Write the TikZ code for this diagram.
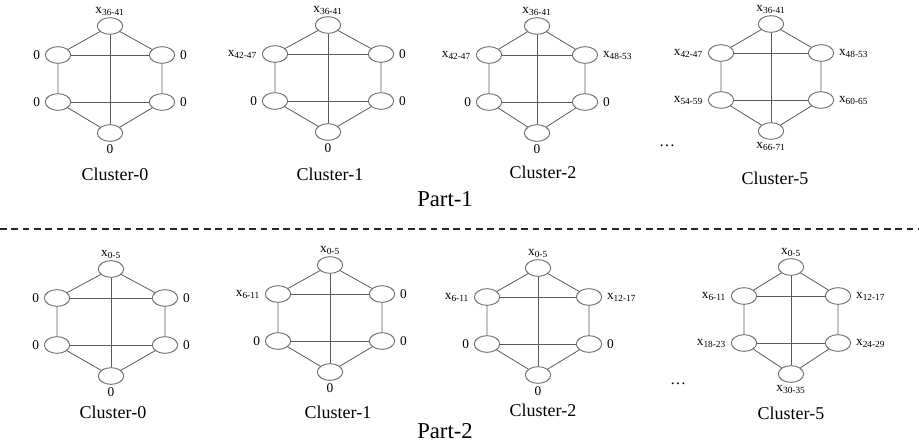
\documentclass[tikz,border=0pt]{standalone}
\usepackage{fontspec}
\setmainfont{Liberation Serif}
\usetikzlibrary{shapes.geometric}
\definecolor{cEdge}{HTML}{5A5A5A}
\definecolor{cVtx}{HTML}{6E6E6E}
\newcommand{\xl}[1]{x\textsubscript{#1}}

\begin{document}
\begin{tikzpicture}[
    x=0.75pt, y=-0.75pt,
    vtx/.style={ellipse, draw=cVtx, line width=0.7pt, minimum width=19pt, minimum height=12.5pt, inner sep=0pt},
    edge/.style={draw=cEdge, line width=0.6pt},
    lbl/.style={font=\fontsize{10}{11}\selectfont, inner sep=1pt},
    ctitle/.style={font=\fontsize{13.5}{15}\selectfont},
    ptitle/.style={font=\fontsize{17}{19}\selectfont},
    sep/.style={draw=black!85, line width=1pt, dash pattern=on 5pt off 3.5pt}
]
\useasboundingbox (0,0) rectangle (919,444);

% one hexagon cluster per entry: name/center x/top y/half width/title x/title y/title/labels
\foreach \n/\cx/\t/\w/\lx/\ly/\name/\la/\lb/\lc/\ld/\le/\lf in {
    c0a/110/26/52/115/174/Cluster-0/\xl{36-41}/0/0/0/0/0,
    c1a/328/25/53/330/174/Cluster-1/\xl{36-41}/\xl{42-47}/0/0/0/0,
    c2a/537/26/48/543/172/Cluster-2/\xl{36-41}/\xl{42-47}/\xl{48-53}/0/0/0,
    c5a/771/24/50/775/178/Cluster-5/\xl{36-41}/\xl{42-47}/\xl{48-53}/\xl{54-59}/\xl{60-65}/\xl{66-71},
    c0b/111/269/54/113/412/Cluster-0/\xl{0-5}/0/0/0/0/0,
    c1b/330/265/52/338/412/Cluster-1/\xl{0-5}/\xl{6-11}/0/0/0/0,
    c2b/538/268/51/543/410/Cluster-2/\xl{0-5}/\xl{6-11}/\xl{12-17}/0/0/0,
    c5b/791/267/47/791/413/Cluster-5/\xl{0-5}/\xl{6-11}/\xl{12-17}/\xl{18-23}/\xl{24-29}/\xl{30-35}}
{
    \node[vtx, label={[lbl, label distance=0pt]above:\la}] (\n-t) at (\cx,\t) {};
    \node[vtx, label={[lbl, label distance=2.5pt]left:\lb}] (\n-ul) at (\cx-\w,\t+29) {};
    \node[vtx, label={[lbl, label distance=2.5pt]right:\lc}] (\n-ur) at (\cx+\w,\t+29) {};
    \node[vtx, label={[lbl, label distance=2.5pt]left:\ld}] (\n-dl) at (\cx-\w,\t+76) {};
    \node[vtx, label={[lbl, label distance=2.5pt]right:\le}] (\n-dr) at (\cx+\w,\t+76) {};
    \node[vtx, label={[lbl, label distance=1pt]below:\lf}] (\n-b) at (\cx,\t+107) {};
    \node[ctitle] (\n-name) at (\lx,\ly) {\name};

    \draw[edge] (\n-t) -- (\n-ul) -- (\n-dl) -- (\n-b) -- (\n-dr) -- (\n-ur) -- (\n-t);
    \draw[edge] (\n-ul) -- (\n-ur);
    \draw[edge] (\n-dl) -- (\n-dr);
    \draw[edge] (\n-t) -- (\n-b);
}

\node[font=\fontsize{12}{12}\selectfont] (dotsa) at (667,146) {\ldots};
\node[font=\fontsize{12}{12}\selectfont] (dotsb) at (678,384) {\ldots};

\node[ptitle] (part1) at (445,199) {Part-1};
\node[ptitle] (part2) at (445,431) {Part-2};

\coordinate (sepl) at (0,229);
\coordinate (sepr) at (919,229);
\draw[sep] (sepl) -- (sepr);

\end{tikzpicture}
\end{document}
